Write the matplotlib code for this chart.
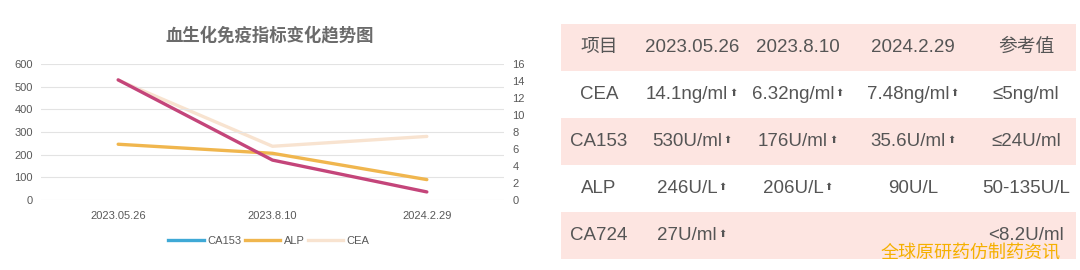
import matplotlib
matplotlib.use("Agg")
import matplotlib.pyplot as plt
from matplotlib.lines import Line2D
from matplotlib.patches import Rectangle

plt.rcParams['font.family'] = ['Liberation Sans', 'Noto Sans CJK SC', 'DejaVu Sans']

# ---- data ----
dates = ["2023.05.26", "2023.8.10", "2024.2.29"]
ca153 = [530, 176, 35.6]
alp = [246, 206, 90]
cea = [14.1, 6.32, 7.48]

left_ticks = [0, 100, 200, 300, 400, 500, 600]
right_ticks = [0, 2, 4, 6, 8, 10, 12, 14, 16]

table_header = ["项目", "2023.05.26", "2023.8.10", "2024.2.29", "参考值"]
table_rows = [
    ["CEA", "14.1ng/ml", "6.32ng/ml", "7.48ng/ml", "≤5ng/ml"],
    ["CA153", "530U/ml", "176U/ml", "35.6U/ml", "≤24U/ml"],
    ["ALP", "246U/L", "206U/L", "90U/L", "50-135U/L"],
    ["CA724", "27U/ml", "", "", "<8.2U/ml"],
]
table_up = [
    [False, True, True, True, False],
    [False, True, True, True, False],
    [False, True, True, False, False],
    [False, True, False, False, False],
]

W, H = 1080, 270
fig = plt.figure(figsize=(W / 100, H / 100), dpi=100)
fig.patch.set_facecolor("white")

# ---- chart ----
tick_col = "#595959"
grid_col = "#E3E3E3"
ax = fig.add_axes([41 / W, 70 / H, 463 / W, 136 / H])
x = list(range(len(dates)))
ax.plot(x, ca153, color="#C4457A", lw=2.4, zorder=3, solid_capstyle="round")
ax.plot(x, alp, color="#F0B64E", lw=2.4, zorder=2, solid_capstyle="round")
ax.set_xlim(-0.5, len(dates) - 0.5)
ax.set_ylim(0, 600)
ax.set_yticks(left_ticks)
ax.set_xticks(x)
ax.set_xticklabels(dates)
ax.grid(axis="y", color=grid_col, lw=0.8)
ax.set_axisbelow(True)
for s in ax.spines.values():
    s.set_visible(False)
ax.tick_params(length=0, colors=tick_col, labelsize=8)
ax.tick_params(axis="x", pad=8)
ax.tick_params(axis="y", pad=6)

ax2 = ax.twinx()
ax2.plot(x, cea, color="#F8E3D0", lw=2.4, zorder=1, solid_capstyle="round")
ax2.set_ylim(0, 16)
ax2.set_yticks(right_ticks)
for s in ax2.spines.values():
    s.set_visible(False)
ax2.tick_params(length=0, colors=tick_col, labelsize=8, pad=6)
ax.set_zorder(ax2.get_zorder() + 1)
ax.patch.set_visible(False)

fig.text(270 / W, 1 - 35 / H, "血生化免疫指标变化趋势图", ha="center", va="center",
         fontsize=12.5, fontweight="bold", color="#6B6B6B",
         family=["Noto Sans CJK SC", "DejaVu Sans"])

handles = [Line2D([], [], color="#3FA9D6", lw=2.4),
           Line2D([], [], color="#F0B64E", lw=2.4),
           Line2D([], [], color="#F8E3D0", lw=2.4)]
fig.legend(handles, ["CA153", "ALP", "CEA"], loc="center",
           bbox_to_anchor=(269 / W, 1 - 241 / H), ncol=3, frameon=False,
           fontsize=8, labelcolor=tick_col, handlelength=3.2,
           handletextpad=0.3, columnspacing=0.3)

# ---- table ----
tax = fig.add_axes([0, 0, 1, 1])
tax.set_xlim(0, W)
tax.set_ylim(H, 0)
tax.axis("off")

tx0, tx1 = 561, 1076
ty0, rh = 24, 47
col_centers = [599, 692, 798, 913, 1026]
pink = "#FDE5E1"
txt_col = "#555555"
tfam = ["Liberation Sans", "Noto Sans CJK SC", "DejaVu Sans"]

all_rows = [table_header] + table_rows
all_up = [[False] * 5] + table_up
for r, (row, ups) in enumerate(zip(all_rows, all_up)):
    top = ty0 + r * rh
    if r % 2 == 0:
        tax.add_patch(Rectangle((tx0, top), tx1 - tx0, rh, color=pink, lw=0, zorder=0))
    cy = top + rh / 2
    for c, (val, up) in enumerate(zip(row, ups)):
        if not val:
            continue
        t = tax.text(col_centers[c] - (5 if up else 0), cy, val, ha="center", va="center",
                     fontsize=13.5, color=txt_col, family=tfam, zorder=2)
        if up:
            tax.annotate("⬆", xy=(1, 0.3), xycoords=t, xytext=(1, 0),
                         textcoords="offset points", ha="left", va="bottom",
                         fontsize=7, color=txt_col, family=["DejaVu Sans"], zorder=2)

fig.text(971 / W, 1 - 253 / H, "全球原研药仿制药资讯", ha="center", va="center",
         fontsize=13, color="#F5B000", family=["Noto Sans CJK SC", "DejaVu Sans"])

fig.savefig("out.png", dpi=100, facecolor="white")
